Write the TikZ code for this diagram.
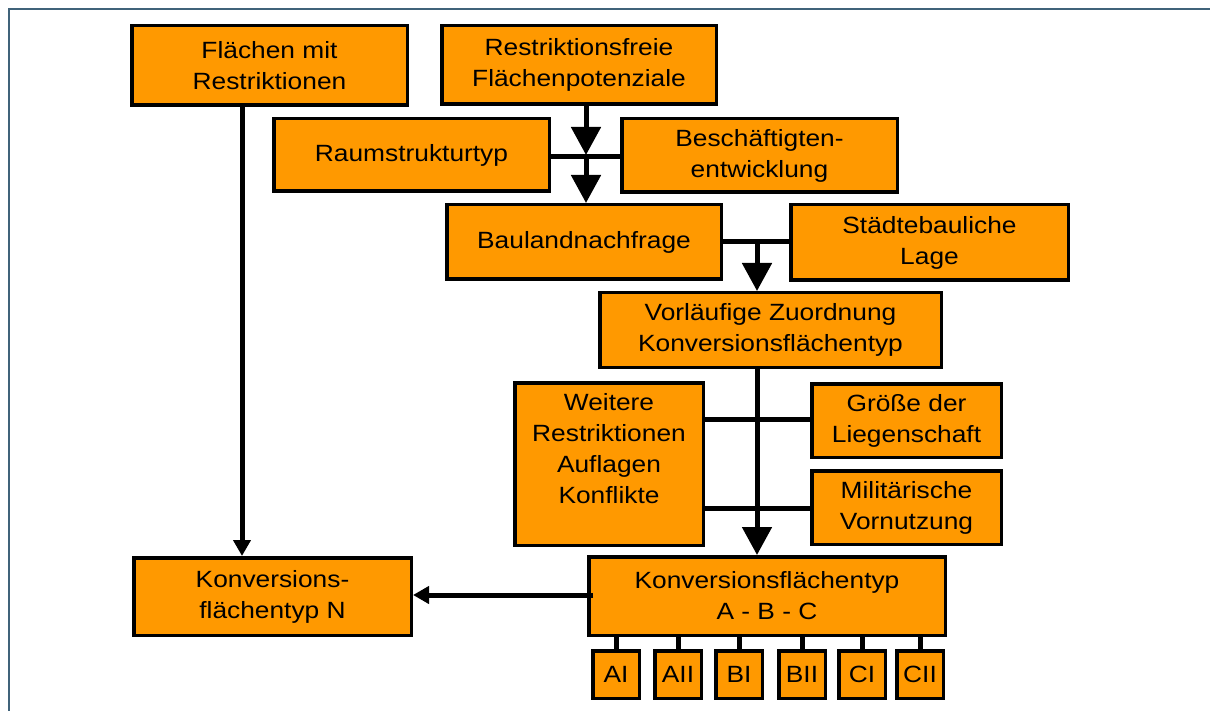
\documentclass[tikz,border=0pt]{standalone}
\usepackage{fontspec}
\setmainfont[FakeStretch=1.12]{Liberation Sans}
\usetikzlibrary{arrows.meta,calc}
\definecolor{boxfill}{HTML}{FF9900}
\definecolor{framecol}{RGB}{64,99,122}
\begin{document}
\begin{tikzpicture}[x=1pt,y=-1pt,
  box/.style={draw=black,line width=3.5pt,fill=boxfill,align=center,inner sep=0pt,
    font=\fontsize{23.5}{31}\selectfont},
  minibox/.style={box,minimum width=46.5pt,minimum height=47.5pt},
  link/.style={line width=5pt},
  bigarrow/.style={link,-{Triangle[width=29pt,length=28pt]}},
  smallarrow/.style={link,-{Triangle[width=17pt,length=16pt]}}]
\useasboundingbox (0,0) rectangle (1210,711);
\draw[framecol,line width=1.5pt] (9,712) -- (9,9) -- (1211,9);

% boxes
\node[box,minimum width=275.5pt,minimum height=79.5pt] (fmr) at (269.5,65.5) {Flächen mit\\Restriktionen};
\node[box,minimum width=274.5pt,minimum height=78.5pt] (rf) at (579,65) {Restriktionsfreie\\Flächenpotenziale};
\node[box,minimum width=275.5pt,minimum height=72.5pt] (rst) at (411.5,155) {Raumstrukturtyp};
\node[box,minimum width=275.5pt,minimum height=73.5pt] (be) at (759.5,155.5) {Beschäftigten-\\entwicklung};
\node[box,minimum width=274.5pt,minimum height=74.5pt] (bl) at (584,242) {Baulandnachfrage};
\node[box,minimum width=277.5pt,minimum height=75.5pt] (sl) at (929.5,242.5) {Städtebauliche\\Lage};
\node[box,minimum width=341.5pt,minimum height=74.5pt] (vz) at (770.5,330) {Vorläufige Zuordnung\\Konversionsflächentyp};
\node[box,minimum width=188.5pt,minimum height=162.5pt] (wr) at (609,464)
  {\raisebox{7pt}[0pt][0pt]{\begin{tabular}{@{}c@{}}Weitere\\Restriktionen\\Auflagen\\Konflikte\end{tabular}}};
\node[box,minimum width=189.5pt,minimum height=73.5pt] (gl) at (906.5,420.5) {Größe der\\Liegenschaft};
\node[box,minimum width=189.5pt,minimum height=73.5pt] (mv) at (906.5,507.5) {Militärische\\Vornutzung};
\node[box,minimum width=356.5pt,minimum height=78.5pt] (abc) at (767,596) {Konversionsflächentyp\\A - B - C};
\node[box,minimum width=277.5pt,minimum height=77.5pt] (n) at (272.5,596.5) {Konversions-\\flächentyp N};

\node[minibox] (ai)  at (616,674.5) {AI};
\node[minibox] (aii) at (678,674.5) {AII};
\node[minibox] (bi)  at (739,674.5) {BI};
\node[minibox] (bii) at (802,674.5) {BII};
\node[minibox] (ci)  at (862,674.5) {CI};
\node[minibox] (cii) at (920,674.5) {CII};

% junction points of the connectors
\coordinate (j1) at (586,157);
\coordinate (j2) at (757,242);
\coordinate (h1) at (757,419);
\coordinate (h2) at (757,508);
\coordinate (lc) at (242,0);

% upper stage
\draw[bigarrow] (rf.south -| j1) -- ($(j1)+(0,-2)$);
\draw[link] (rst.east |- j1) -- (j1 -| be.west);
\draw[bigarrow] (j1) -- (j1 |- bl.north);

% second stage
\draw[link] (bl.east |- j2) -- (j2 -| sl.west);
\draw[bigarrow] (j2) -- (j2 |- vz.north);

% third stage
\draw[bigarrow] (vz.south -| h1) -- (h1 |- abc.north);
\draw[link] (h1 -| wr.east) -- (h1 -| gl.west);
\draw[link] (h2 -| wr.east) -- (h2 -| mv.west);

% left column
\draw[smallarrow] (fmr.south -| lc) -- (n.north -| lc);
\draw[smallarrow] ($(abc.west)+(6,-1)$) -- (n.east |- 0,595);

% sub-types
\foreach \s in {ai,aii,bi,bii,ci,cii}
  \draw[link] (\s.north) -- (\s.north |- abc.south);
\end{tikzpicture}
\end{document}
